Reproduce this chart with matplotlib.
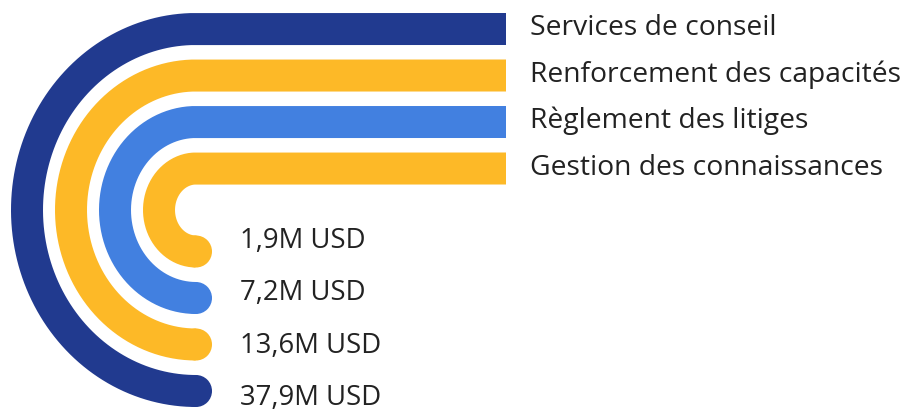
import numpy as np
import matplotlib
matplotlib.use("Agg")
import matplotlib.pyplot as plt
from matplotlib.patches import Circle

# Data (outer ring first)
categories = ["Services de conseil", "Renforcement des capacités",
              "Règlement des litiges", "Gestion des connaissances"]
values = [37.9, 13.6, 7.2, 1.9]  # millions USD
colors = ["#213a8f", "#fdb927", "#4280e0", "#fdb927"]

plt.rcParams['font.family'] = ['Open Sans', 'DejaVu Sans']

W, H = 909, 412
fig = plt.figure(figsize=(W / 100, H / 100), dpi=100)
ax = fig.add_axes([0, 0, 1, 1])
ax.set_xlim(0, W)
ax.set_ylim(H, 0)
ax.axis('off')

# ring geometry in pixel units
cx, cy = 196, 210
bar_end = 506
band = 32
lw = band * 72 / 100

t = np.linspace(0, np.pi, 300)
for i, (cat, val, col) in enumerate(zip(categories, values, colors)):
    ry = 181 - 46.5 * i
    rx = 169 - 44 * i
    top = cy - ry
    # straight part + curve as one path
    x = np.concatenate([[bar_end], cx - rx * np.sin(t)])
    y = np.concatenate([[top], cy - ry * np.cos(t)])
    ax.plot(x, y, color=col, lw=lw, solid_capstyle='butt', solid_joinstyle='round')
    ax.add_patch(Circle((x[-1], y[-1]), band / 2, color=col, lw=0))
    # legend label
    ax.text(530, top + 6, cat, fontsize=20.3, color="#222222",
            va='baseline', ha='left')

# value labels, innermost first
for k, val in enumerate(values[::-1]):
    txt = f"{val:.1f}".replace(".", ",") + "M USD"
    ax.text(240, 248 + 52.3 * k, txt, fontsize=19.8, color="#222222",
            va='baseline', ha='left')

fig.savefig("out.png", dpi=100)
